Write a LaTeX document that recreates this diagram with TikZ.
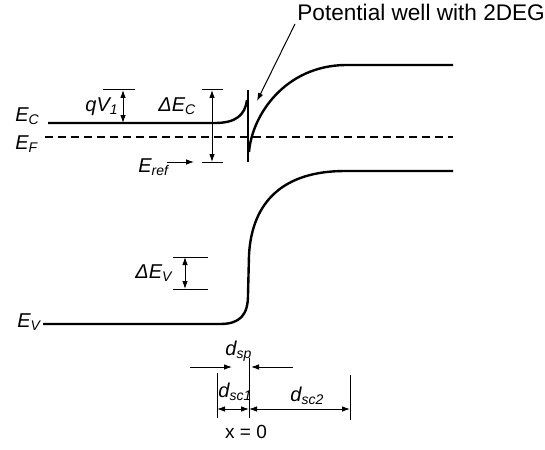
\documentclass[tikz,border=0pt]{standalone}
\usepackage{fontspec}
\setmainfont{Liberation Sans}
\usetikzlibrary{arrows.meta,positioning,calc}
\begin{document}
\begin{tikzpicture}[x=0.5pt, y=-0.5pt, font=\fontsize{9.5}{11}\selectfont,
  band/.style={line width=1.2pt},
  tick/.style={line width=0.5pt},
  dimline/.style={line width=0.5pt, {Latex[length=4pt,width=2.8pt]}-{Latex[length=4pt,width=2.8pt]}},
  pointer/.style={line width=0.5pt, -{Latex[length=4pt,width=2.8pt]}},
  lbl/.style={inner sep=0pt, anchor=base west, font=\fontsize{10}{12}\selectfont\itshape}]
\useasboundingbox (0,0) rectangle (545,449);
% band edges
\coordinate (ecA) at (48,123); \coordinate (ecB) at (215,123); \coordinate (ecC) at (247,100);
\coordinate (spikeT) at (248,90); \coordinate (spikeB) at (248,162);
\coordinate (ecD) at (249,152); \coordinate (ecE) at (345,65); \coordinate (ecF) at (453,65);
\coordinate (efA) at (45,137); \coordinate (efB) at (453,137);
\coordinate (evA) at (43,324); \coordinate (evB) at (220,324); \coordinate (evC) at (248,295);
\coordinate (evD) at (249,255); \coordinate (evE) at (345,171); \coordinate (evF) at (453,171);
\draw[band] (ecA) -- (ecB) .. controls (236,123) and (245,115) .. (ecC);
\draw[band] (spikeT) -- (spikeB);
\draw[band] (ecD) .. controls (252,115) and (285,66) .. (ecE) -- (ecF);
\draw[line width=0.6pt, dash pattern=on 4pt off 2.5pt] (efA) -- (efB);
\draw[band] (evA) -- (evB) .. controls (240,324) and (248,315) .. (evC) -- (evD) .. controls (252,200) and (285,171) .. (evE) -- (evF);
% labels on the left
\node[lbl] (ec) at (15,121) {E\textsubscript{C}};
\node[lbl] (ef) at (15,149) {E\textsubscript{F}};
\node[lbl] (ev) at (17,327) {E\textsubscript{V}};
% qV1
\coordinate (qvT) at (123,90); \coordinate (qvB) at (123,123);
\draw[tick] (103,90) -- (135,90);
\draw[dimline] (qvT) -- (qvB);
\node[lbl] (qv) at (85,112) {qV\textsubscript{1}};
% Delta E_C
\coordinate (decT) at (212,90); \coordinate (decB) at (212,162);
\draw[tick] (202,90) -- (223,90) (202,162) -- (223,162);
\draw[dimline] (decT) -- (decB);
\node[lbl] (dec) at (158,112) {ΔE\textsubscript{C}};
\node[lbl] (eref) at (138,172) {E\textsubscript{ref}};
\coordinate (erefA) at (167,162); \coordinate (erefB) at (194,162);
\draw[pointer] (erefA) -- (erefB);
% Delta E_V
\coordinate (devT) at (185,257); \coordinate (devB) at (185,289);
\draw[tick] (173,257) -- (208,257) (173,289) -- (208,289);
\draw[dimline] (devT) -- (devB);
\node[lbl] (dev) at (135,278) {ΔE\textsubscript{V}};
% 2DEG callout
\node[inner sep=0pt, anchor=base west, font=\fontsize{11.3}{13}\selectfont] (well) at (297,21) {Potential well with 2DEG};
\coordinate (wellTip) at (257,101);
\draw[pointer] (295,24) -- (wellTip);
% widths at the bottom
\draw[tick] (217,373) -- (217,418) (249,358) -- (249,418) (350,375) -- (350,420);
\coordinate (scA) at (217,409); \coordinate (scB) at (249,409); \coordinate (scC) at (350,409);
\draw[dimline] (scA) -- (scB); \draw[dimline] (scB) -- (scC);
\coordinate (spL) at (190,367); \coordinate (spLt) at (232,367);
\coordinate (spR) at (293,367); \coordinate (spRt) at (251,367);
\draw[pointer] (spL) -- (spLt); \draw[pointer] (spR) -- (spRt);
\node[lbl] (dsp) at (225,355) {d\textsubscript{sp}};
\node[lbl] (dsc1) at (218,397) {d\textsubscript{sc1}};
\node[lbl] (dsc2) at (290,401) {d\textsubscript{sc2}};
\node[inner sep=0pt, anchor=base] (xzero) at (246,438) {x = 0};
\end{tikzpicture}
\end{document}
